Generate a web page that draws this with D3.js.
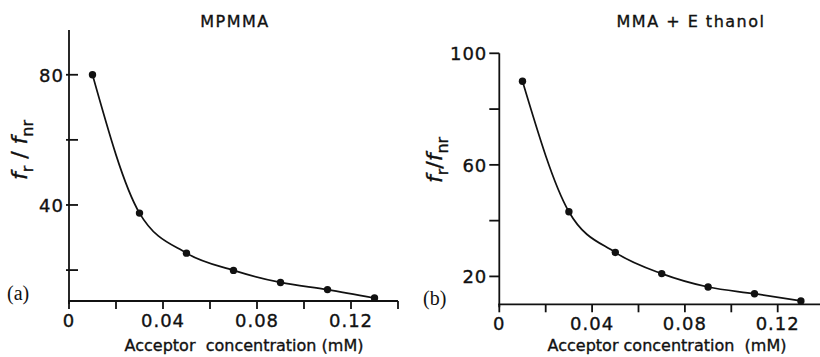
<!DOCTYPE html>
<html>
	<head>
		<script src="https://cdnjs.cloudflare.com/ajax/libs/d3/7.8.5/d3.min.js"></script>
		<title>Acceptor concentration</title>
	</head>

	<style>
		body {
			margin: 0;
			background-color: #fff;
		}

		svg text {
			fill: #111;
			stroke: #111;
			stroke-width: 0.35px;
			font-family: 'DejaVu Sans', sans-serif;
		}

		.tick-label {
			font-size: 18px;
			letter-spacing: 1px;
		}

		.axis-title {
			font-size: 16px;
			white-space: pre;
		}

		.panel-title {
			font-size: 16px;
			letter-spacing: 1.5px;
			white-space: pre;
		}

		.panel-tag {
			font-family: 'Liberation Serif', serif !important;
			font-size: 20px;
			stroke-width: 0 !important;
		}

		.axis-line {
			stroke: #111;
			stroke-width: 1.8px;
			fill: none;
		}

		.fit {
			stroke: #111;
			stroke-width: 1.7px;
			fill: none;
		}
	</style>

	<body>
		<svg width="820" height="357"></svg>
	</body>

	<script type="text/javascript">
		// acceptor concentration (mM), same for both panels
		var conc = [ 0.01, 0.03, 0.05, 0.07, 0.09, 0.11, 0.13 ];

		// (a) MPMMA
		var ratio_a = [ 80, 37.5, 25.2, 19.9, 16.2, 14.0, 11.4 ];
		// (b) MMA + Ethanol
		var ratio_b = [ 90, 43.2, 28.6, 21.0, 16.2, 13.8, 11.2 ];

		var x_ticks = [ 0, 0.02, 0.04, 0.06, 0.08, 0.10, 0.12, 0.14 ];
		var x_labels = [ 0, 0.04, 0.08, 0.12 ];
		var y_ticks_a = [ 20, 40, 60, 80 ];
		var y_labels_a = [ 40, 80 ];
		var y_ticks_b = [ 20, 40, 60, 80, 100 ];
		var y_labels_b = [ 20, 60, 100 ];

		var svg = d3.select( 'svg' );

		function fmt( v ) {
			return v === 0 ? '0' : d3.format( '.2f' )( v );
		}

		function draw_panel( opt ) {
			var x = d3.scaleLinear()
				.domain( [0, 0.14] )
				.range( opt.xr );
			var y = d3.scaleLinear()
				.domain( opt.yd )
				.range( opt.yr );

			var g = svg.append( 'g' );

			// axes
			g.append( 'line' )
				.attr( 'class', 'axis-line' )
				.attr( 'x1', x( 0 ) ).attr( 'x2', x( 0 ) )
				.attr( 'y1', y( opt.yd[1] ) ).attr( 'y2', y( opt.yd[0] ) + 3 );
			g.append( 'line' )
				.attr( 'class', 'axis-line' )
				.attr( 'x1', x( 0 ) - 1 ).attr( 'x2', Math.min( x( 0.14 ), 820 ) )
				.attr( 'y1', y( opt.yd[0] ) ).attr( 'y2', y( opt.yd[0] ) );

			// x ticks point down, out of the plot
			g.selectAll( '.xt' )
				.data( x_ticks )
				.enter().append( 'line' )
					.attr( 'class', 'axis-line' )
					.attr( 'x1', function( d ) { return x( d ); } )
					.attr( 'x2', function( d ) { return x( d ); } )
					.attr( 'y1', y( opt.yd[0] ) )
					.attr( 'y2', y( opt.yd[0] ) + 8 );

			g.selectAll( '.xl' )
				.data( x_labels )
				.enter().append( 'text' )
					.attr( 'class', 'tick-label' )
					.attr( 'x', function( d ) { return x( d ); } )
					.attr( 'y', y( opt.yd[0] ) + 26 )
					.attr( 'text-anchor', 'middle' )
					.text( fmt );

			// y ticks: inside for (a), outside for (b)
			g.selectAll( '.yt' )
				.data( opt.yt )
				.enter().append( 'line' )
					.attr( 'class', 'axis-line' )
					.attr( 'x1', x( 0 ) + opt.tick[0] )
					.attr( 'x2', x( 0 ) + opt.tick[1] )
					.attr( 'y1', function( d ) { return y( d ); } )
					.attr( 'y2', function( d ) { return y( d ); } );

			g.selectAll( '.yl' )
				.data( opt.yl )
				.enter().append( 'text' )
					.attr( 'class', 'tick-label' )
					.attr( 'x', x( 0 ) + opt.tick[0] - 2 )
					.attr( 'y', function( d ) { return y( d ) + 7; } )
					.attr( 'text-anchor', 'end' )
					.text( function( d ) { return d; } );

			// fitted curve + points
			var pts = conc.map( function( c, i ) { return [c, opt.vals[i]]; } );
			var line = d3.line()
				.x( function( d ) { return x( d[0] ); } )
				.y( function( d ) { return y( d[1] ); } )
				.curve( d3.curveMonotoneX );
			g.append( 'path' )
				.attr( 'class', 'fit' )
				.attr( 'd', line( pts ) );
			g.selectAll( 'circle' )
				.data( pts )
				.enter().append( 'circle' )
					.attr( 'cx', function( d ) { return x( d[0] ); } )
					.attr( 'cy', function( d ) { return y( d[1] ); } )
					.attr( 'r', 3.7 )
					.attr( 'fill', '#111' );

			// texts
			g.append( 'text' )
				.attr( 'class', 'panel-title' )
				.attr( 'x', opt.title_x )
				.attr( 'y', 27 )
				.attr( 'text-anchor', 'middle' )
				.text( opt.title );

			g.append( 'text' )
				.attr( 'class', 'axis-title' )
				.attr( 'x', opt.xlab_x )
				.attr( 'y', 351 )
				.attr( 'text-anchor', 'middle' )
				.text( opt.xlab );

			var yl = g.append( 'text' )
				.attr( 'transform', 'translate(' + opt.ylab[0] + ',' + opt.ylab[1] + ') rotate(-90)' )
				.attr( 'text-anchor', 'middle' )
				.style( 'font-size', '22px' )
				.style( 'white-space', 'pre' );
			yl.append( 'tspan' ).style( 'font-style', 'italic' ).text( 'f' );
			yl.append( 'tspan' ).attr( 'dy', 6 ).style( 'font-size', '16px' ).text( 'r' );
			yl.append( 'tspan' ).attr( 'dy', -6 ).text( opt.slash );
			yl.append( 'tspan' ).style( 'font-style', 'italic' ).text( 'f' );
			yl.append( 'tspan' ).attr( 'dy', 6 ).style( 'font-size', '16px' ).text( 'nr' );

			g.append( 'text' )
				.attr( 'class', 'panel-tag' )
				.attr( 'x', opt.tag[0] )
				.attr( 'y', opt.tag[1] )
				.text( opt.tag_text );
		}

		draw_panel( {
			vals: ratio_a,
			xr: [69, 398],
			yd: [10.5, 93.75],
			yr: [301, 30],
			yt: y_ticks_a,
			yl: y_labels_a,
			tick: [-3, 9],
			title: 'MPMMA',
			title_x: 235,
			xlab: 'Acceptor  concentration (mM)',
			xlab_x: 244,
			ylab: [27, 150],
			slash: ' / ',
			tag: [7, 300],
			tag_text: '(a)'
		} );

		draw_panel( {
			vals: ratio_b,
			xr: [499.3, 824.1],
			yd: [10, 100],
			yr: [304.3, 53.3],
			yt: y_ticks_b,
			yl: y_labels_b,
			tick: [-10, 0],
			title: 'MMA + E thanol',
			title_x: 691,
			xlab: 'Acceptor concentration  (mM)',
			xlab_x: 667,
			ylab: [442, 160],
			slash: '/',
			tag: [423, 305],
			tag_text: '(b)'
		} );
	</script>

</html>
